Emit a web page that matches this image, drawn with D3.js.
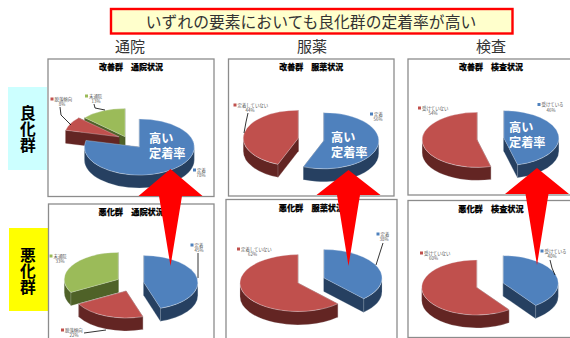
<!DOCTYPE html>
<html lang="ja">
<head>
<meta charset="utf-8">
<title>定着率の比較</title>
<script src="https://cdn.jsdelivr.net/npm/d3@7"></script>
<style>
  html, body { margin: 0; padding: 0; background: #fff; }
  svg { display: block; font-family: "Noto Sans CJK JP", "Noto Sans", sans-serif; }
</style>
</head>
<body>
<svg id="chart" width="570" height="338" viewBox="0 0 570 338"></svg>
<script>
// Heading and row/column captions
const headline = "いずれの要素においても良化群の定着率が高い";
const columnNames = ["通院", "服薬", "検査"];
const rowNames = ["良化群", "悪化群"];
const calloutLines = ["高い", "定着率"];

// Pie titles
const pieTitles = [
  "改善群　通院状況", "改善群　服薬状況", "改善群　検査状況",
  "悪化群　通院状況", "悪化群　服薬状況", "悪化群　検査状況"
];

// Slice categories per pie
const visitCategories = ["定着", "脱落傾向", "未通院"];
const medicationCategories = ["定着", "定着していない"];
const testCategories = ["受けている", "受けていない"];

// Percentages per pie
const goodVisit = [78, 8, 13];
const goodMedication = [56, 44];
const goodTest = [46, 54];
const badVisit = [45, 22, 33];
const badMedication = [38, 62];
const badTest = [40, 60];

const pieCategories = [visitCategories, medicationCategories, testCategories,
                       visitCategories, medicationCategories, testCategories];
const pieValues = [goodVisit, goodMedication, goodTest, badVisit, badMedication, badTest];

// Slice colours: [top face, side wall]
const blue = ["#4f81bd", "#264061"];
const red = ["#c0504d", "#632523"];
const green = ["#9bbb59", "#4f6228"];
const pieColors = [
  [blue, red, green], [blue, red], [blue, red],
  [blue, red, green], [blue, red], [blue, red]
];

// Page layout for each pie: frame, pie centre, radius and per-slice explosion
const layout = [
  { frame: [48, 59, 166, 137.5], titleY: 70, cx: 127, cy: 139, r: 55, tilt: 0.51, depth: 13, explode: [20, 9, 5],
    labels: [[194.5, 170, 201], [52, 99, 62], [86.5, 96, 96]],
    leaders: [null, [[60, 107], [61, 115], [71, 125]], [[94, 104], [95, 108], [105, 110]]] },
  { frame: [228.5, 59, 165.5, 137], titleY: 70, cx: 311, cy: 139.5, r: 55, tilt: 0.51, depth: 13, explode: [13, 13],
    labels: [[371.5, 114, 378], [235, 105, 250]],
    leaders: [null, [[248, 113], [246, 122], [244, 133]]] },
  { frame: [408, 59, 170, 136], titleY: 70, cx: 490.5, cy: 139, r: 55, tilt: 0.5, depth: 13, explode: [13.5, 13.5],
    labels: [[539, 104.5, 551], [419.5, 108, 433]],
    leaders: [null, null] },
  { frame: [48.5, 204, 165.5, 150], titleY: 215, cx: 132, cy: 283.5, r: 54, tilt: 0.5, depth: 13, explode: [12, 16, 16],
    labels: [[192, 245, 199], [62.5, 330, 74], [51, 256, 60]],
    leaders: [[[198, 253], [198, 278]], [[84, 333], [106, 330]], null] },
  { frame: [226, 199.5, 171, 150], titleY: 211, cx: 311, cy: 280.5, r: 58, tilt: 0.49, depth: 13.5, explode: [14, 14],
    labels: [[378, 234, 384], [238.5, 249, 252.5]],
    leaders: [[[383, 243], [376, 265]], null] },
  { frame: [408, 200.5, 170, 137], titleY: 212, cx: 490, cy: 285.3, r: 55, tilt: 0.5, depth: 13, explode: [14, 14],
    labels: [[542, 251, 552], [421.5, 253, 433.5]],
    leaders: [[[550, 260], [552, 268], [555, 275]], null] }
];

// Arrows rising from the lower row into the upper row
const arrows = [
  { x: 170.5, tip: 169, base: 196, halfHead: 32, halfShaft: 11.5, foot: 266 },
  { x: 348.5, tip: 170, base: 195, halfHead: 32, halfShaft: 11.5, foot: 266 },
  { x: 537, tip: 168, base: 194, halfHead: 32, halfShaft: 11.5, foot: 265 }
];

// White callout positions inside the upper pies
const callouts = [[149, 143, 158], [331, 142, 157], [509, 132, 147]];

const svg = d3.select("#chart");

// Point on a slice's rim at a clockwise-from-top angle
const rimPoint = (g, a, lift = 0) => [
  g.x + g.r * Math.sin(a),
  g.y - g.r * g.tilt * Math.cos(a) + lift
];

// Rim arc as an SVG path fragment from angle a0 to a1, clockwise
const rimArc = (g, a1, lift, reverse, a0) => {
  const [ex, ey] = rimPoint(g, a1, lift);
  const large = Math.abs(a1 - a0) > Math.PI ? 1 : 0;
  return `A${g.r},${g.r * g.tilt} 0 ${large} ${reverse ? 0 : 1} ${ex},${ey}`;
};

function drawSlice(parent, g, arcDatum, colors) {
  const { startAngle: a0, endAngle: a1 } = arcDatum;
  const piece = parent.append("g");
  const edge = colors[1];

  // Radial cut faces
  [a0, a1].forEach(a => {
    const [px, py] = rimPoint(g, a);
    piece.append("path")
      .attr("d", `M${g.x},${g.y}L${px},${py}L${px},${py + g.depth}L${g.x},${g.y + g.depth}Z`)
      .attr("fill", edge).attr("stroke", edge).attr("stroke-width", 0.3);
  });

  // Outer wall: only the part of the rim that faces the viewer
  const wallFrom = Math.max(a0, Math.PI / 2);
  const wallTo = Math.min(a1, Math.PI * 1.5);
  if (wallTo > wallFrom) {
    const [sx, sy] = rimPoint(g, wallFrom);
    const [ex, ey] = rimPoint(g, wallTo);
    piece.append("path")
      .attr("d", `M${sx},${sy}${rimArc(g, wallTo, 0, false, wallFrom)}L${ex},${ey + g.depth}${rimArc(g, wallFrom, g.depth, true, wallTo)}Z`)
      .attr("fill", edge)
      .attr("stroke", "#dfe6ee").attr("stroke-width", 0.4).attr("stroke-opacity", 0.55);
  }

  // Top face
  const top = d3.arc().innerRadius(0).outerRadius(g.r)(arcDatum);
  piece.append("path")
    .attr("d", top)
    .attr("transform", `translate(${g.x},${g.y}) scale(1,${g.tilt})`)
    .attr("fill", colors[0])
    .attr("stroke", "#eef2f7").attr("stroke-width", 0.5).attr("stroke-opacity", 0.6)
    .attr("vector-effect", "non-scaling-stroke");
}

// Coloured caption boxes and vertical row names
const rowBoxes = [
  { x: 8, y: 87, w: 39, h: 83, fill: "#ccffff", first: 105 },
  { x: 9, y: 228, w: 39, h: 83, fill: "#ffff00", first: 247 }
];
rowBoxes.forEach((b, i) => {
  svg.append("rect").attr("x", b.x).attr("y", b.y).attr("width", b.w).attr("height", b.h).attr("fill", b.fill);
  svg.append("text").attr("x", 28).attr("y", b.first)
    .style("writing-mode", "vertical-rl").style("text-orientation", "upright")
    .attr("font-size", 15.8).attr("font-weight", 700)
    .attr("fill", "#000").text(rowNames[i]);
});

// Headline banner
svg.append("rect").attr("x", 111).attr("y", 9).attr("width", 401.5).attr("height", 24.5)
  .attr("fill", "#ffffcc").attr("stroke", "#ff0000").attr("stroke-width", 2.4);
svg.append("text").attr("x", 311).attr("y", 27.5).attr("text-anchor", "middle")
  .attr("font-size", 15.8).attr("fill", "#333").text(headline);

// Column captions
const columnX = d3.scaleOrdinal().domain(columnNames).range([130, 312, 491]);
columnNames.forEach(name => {
  svg.append("text").attr("x", columnX(name)).attr("y", 51.5).attr("text-anchor", "middle")
    .attr("font-size", 15).attr("fill", "#333").text(name);
});

// Six exploded 3D pies
const pie = d3.pie().sort(null).value(d => d);

pieValues.forEach((values, i) => {
  const L = layout[i];
  const group = svg.append("g");

  group.append("rect")
    .attr("x", L.frame[0]).attr("y", L.frame[1])
    .attr("width", L.frame[2]).attr("height", L.frame[3])
    .attr("fill", "#fff").attr("stroke", "#8c8c8c").attr("stroke-width", 1.3);

  group.append("text")
    .attr("x", L.frame[0] + L.frame[2] / 2 - (i % 3 === 2 ? 2 : 0)).attr("y", L.titleY)
    .attr("text-anchor", "middle")
    .attr("font-size", i < 3 ? 8 : 8.2).attr("font-weight", 900)
    .attr("stroke", "#000").attr("stroke-width", 0.2)
    .attr("fill", "#000").text(pieTitles[i]);

  // Each slice gets its own centre, pushed out along its middle angle
  const slices = pie(values).map((d, k) => {
    const mid = (d.startAngle + d.endAngle) / 2;
    return {
      datum: d, k,
      x: L.cx + L.explode[k] * Math.sin(mid),
      y: L.cy - L.explode[k] * L.tilt * Math.cos(mid),
      r: L.r, tilt: L.tilt, depth: L.depth
    };
  });

  // Back-to-front so nearer slices overlap farther ones
  slices.slice().sort((a, b) => a.y - b.y)
    .forEach(s => drawSlice(group, s, s.datum, pieColors[i][s.k]));

  // Leader lines
  const leaderLine = d3.line().curve(d3.curveLinear);
  L.leaders.forEach(pts => {
    if (pts) group.append("path").attr("d", leaderLine(pts))
      .attr("fill", "none").attr("stroke", "#000").attr("stroke-width", 0.8);
  });

  // Category key and percentage beside each slice
  values.forEach((v, k) => {
    const [mx, my, pctX] = L.labels[k];
    group.append("rect").attr("x", mx - 1.5).attr("y", my - 1.5).attr("width", 3).attr("height", 3)
      .attr("fill", pieColors[i][k][0]);
    const label = group.append("text").attr("font-size", 4.4).attr("fill", "#555");
    label.append("tspan").attr("x", mx + 2.5).attr("y", my + 1.7).text(pieCategories[i][k]);
    label.append("tspan").attr("x", pctX).attr("y", my + 7.3).attr("text-anchor", "middle").text(v + "%");
  });
});

// White callouts over the upper blue slices
callouts.forEach(([x, y1, y2]) => {
  const note = svg.append("text").attr("font-size", 12.2).attr("font-weight", 700).attr("fill", "#fff");
  [y1, y2].forEach((y, k) => {
    note.append("tspan").attr("x", x).attr("y", y).text(calloutLines[k]);
  });
});

// Red arrows, drawn last so they sit above everything
arrows.forEach(a => {
  const shape = [
    [a.x, a.tip], [a.x + a.halfHead, a.base], [a.x + a.halfShaft, a.base],
    [a.x, a.foot], [a.x - a.halfShaft, a.base], [a.x - a.halfHead, a.base]
  ];
  svg.append("path").attr("d", d3.line()(shape) + "Z").attr("fill", "#ff0000");
});
</script>
</body>
</html>
